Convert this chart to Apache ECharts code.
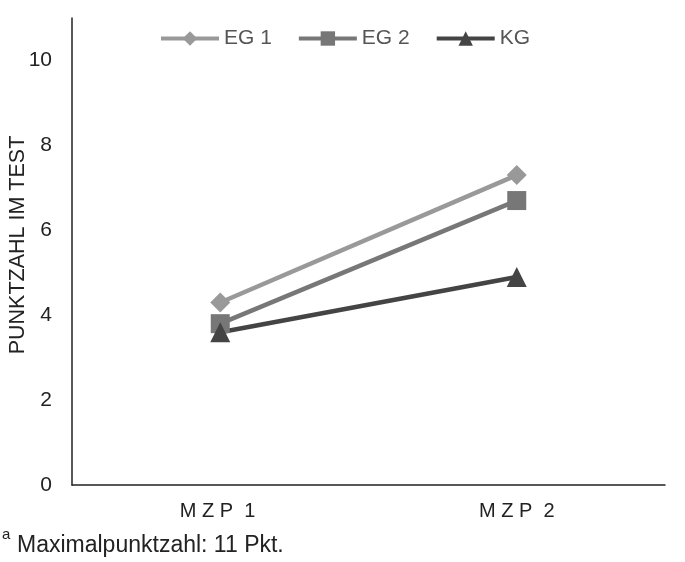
<!DOCTYPE html>
<html>
<head>
<meta charset="utf-8">
<script src="https://cdn.jsdelivr.net/npm/echarts@6/dist/echarts.min.js"></script>
<style>html,body{margin:0;padding:0;background:#fff}#c{width:685px;height:562px}</style>
</head>
<body>
<div id="c"></div>
<script>
var categories = ['M Z P  1 ', 'M Z P  2'];
var eg1 = [4.3, 7.3];
var eg2 = [3.8, 6.7];
var kg = [3.6, 4.9];
var seriesNames = ['EG 1', 'EG 2', 'KG'];
var yTicks = [0, 2, 4, 6, 8, 10];
var yTitle = 'PUNKTZAHL IM TEST';
var footnote = 'Maximalpunktzahl: 11 Pkt.';

var chart = echarts.init(document.getElementById('c'));
var font = 'Liberation Sans, Arial, sans-serif';
chart.setOption({
  animation: false,
  textStyle: { fontFamily: font },
  grid: { left: 72, right: 20, top: 18, bottom: 77 },
  legend: {
    top: 23, left: 154,
    itemWidth: 58, itemHeight: 18, itemGap: 25,
    lineStyle: { width: 4 },
    textStyle: { fontSize: 21, color: '#555', fontFamily: font },
    data: seriesNames
  },
  xAxis: {
    type: 'category', data: categories, boundaryGap: true,
    axisLine: { lineStyle: { color: '#222', width: 1.5 } },
    axisTick: { show: false },
    axisLabel: { fontSize: 20, color: '#222', margin: 16 }
  },
  yAxis: {
    type: 'value', min: 0, max: 11, interval: 2,
    axisLine: { show: true, lineStyle: { color: '#222', width: 1.5 } },
    axisTick: { show: false },
    splitLine: { show: false },
    axisLabel: { fontSize: 21, color: '#222', margin: 20, showMaxLabel: false,
      formatter: function (v) { return yTicks.indexOf(v) >= 0 ? String(v) : ''; } }
  },
  series: [
    { name: seriesNames[0], type: 'line', data: eg1, symbol: 'diamond', symbolSize: 20,
      lineStyle: { color: '#999', width: 4.5 }, itemStyle: { color: '#999' } },
    { name: seriesNames[1], type: 'line', data: eg2, symbol: 'rect', symbolSize: 19,
      lineStyle: { color: '#777', width: 4.5 }, itemStyle: { color: '#777' } },
    { name: seriesNames[2], type: 'line', data: kg, symbol: 'triangle', symbolSize: 20,
      lineStyle: { color: '#444', width: 4.5 }, itemStyle: { color: '#444' } }
  ],
  graphic: [
    { type: 'text', x: 18, y: 245, rotation: Math.PI / 2,
      style: { text: yTitle, fontSize: 21.5, fill: '#222', fontFamily: font, align: 'center', verticalAlign: 'middle' } },
    { type: 'text', left: 2, top: 527, style: { text: 'a', fontSize: 15, fill: '#222', fontFamily: font } },
    { type: 'text', left: 17, top: 534, style: { text: footnote, fontSize: 23, fill: '#222', fontFamily: font } }
  ]
});
</script>
</body>
</html>
